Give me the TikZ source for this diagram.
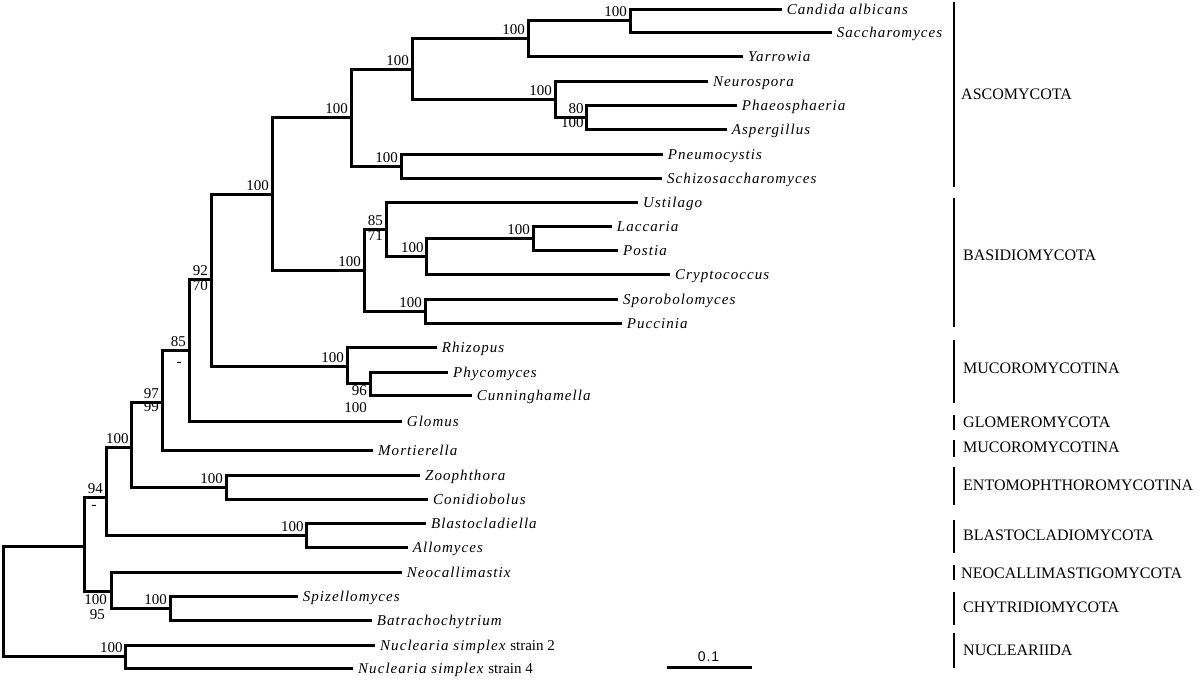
\documentclass[tikz,border=0pt]{standalone}
\usepackage{fontspec}
\setmainfont{Liberation Serif}
\newfontfamily\taxfont[LetterSpace=7]{Liberation Serif}
\newfontfamily\barfont[LetterSpace=6]{Liberation Sans}
\begin{document}
\begin{tikzpicture}[x=1pt,y=-1pt,
  br/.style={line width=3pt, line join=miter},
  leaf/.style={anchor=west, inner xsep=5pt, inner ysep=0pt, text height=11pt, text depth=1pt, font=\taxfont\itshape\fontsize{15}{15}\selectfont},
  lab/.style={anchor=base east, inner sep=0pt, xshift=-3pt, yshift=4pt, font=\fontsize{15}{15}\selectfont},
  labb/.style={lab, yshift=-15pt},
  clade/.style={anchor=base west, inner sep=0pt, font=\fontsize{16}{16}\selectfont},
  cbar/.style={line width=2pt}]
\useasboundingbox (0,0) rectangle (1200,681);

% internal nodes
\coordinate (R) at (3,601);
\coordinate (A) at (84,546);
\coordinate (P) at (125.7,656);
\coordinate (B) at (106,497);
\coordinate (N) at (111,591);
\coordinate (C) at (131.7,447);
\coordinate (M) at (306.7,535);
\coordinate (D) at (162,402);
\coordinate (L) at (226,487);
\coordinate (E) at (189,350.7);
\coordinate (F) at (211,279);
\coordinate (G) at (272,194);
\coordinate (J) at (347,366);
\coordinate (H) at (351,117);
\coordinate (I) at (364,270);
\coordinate (Q) at (412,69);
\coordinate (W) at (401,166);
\coordinate (S) at (528,38);
\coordinate (U) at (555,99);
\coordinate (T) at (630,20);
\coordinate (V) at (586.7,117.7);
\coordinate (X) at (386,229);
\coordinate (AA) at (425,311);
\coordinate (Y) at (426.7,256.7);
\coordinate (Z) at (533,238);
\coordinate (K) at (370,383);
\coordinate (O) at (170,608);

% leaves
\node[leaf] (candida) at (781.7,9) {Candida albicans};
\node[leaf] (sacch) at (831.7,32.3) {Saccharomyces};
\node[leaf] (yarrowia) at (743,56.7) {Yarrowia};
\node[leaf] (neuro) at (708,81) {Neurospora};
\node[leaf] (phaeo) at (736.7,105) {Phaeosphaeria};
\node[leaf] (asperg) at (726.7,129) {Aspergillus};
\node[leaf] (pneumo) at (662.7,154) {Pneumocystis};
\node[leaf] (schizo) at (662,178) {Schizosaccharomyces};
\node[leaf] (ustilago) at (638,202) {Ustilago};
\node[leaf] (laccaria) at (611.7,226.7) {Laccaria};
\node[leaf] (postia) at (618,250.7) {Postia};
\node[leaf] (crypto) at (670,274) {Cryptococcus};
\node[leaf] (sporo) at (618,299) {Sporobolomyces};
\node[leaf] (puccinia) at (621.7,323) {Puccinia};
\node[leaf] (rhizopus) at (436.7,347) {Rhizopus};
\node[leaf] (phyco) at (448,372) {Phycomyces};
\node[leaf] (cunning) at (471.7,395.5) {Cunninghamella};
\node[leaf] (glomus) at (401.7,421.7) {Glomus};
\node[leaf] (mortier) at (373,450) {Mortierella};
\node[leaf] (zoo) at (420,475.5) {Zoophthora};
\node[leaf] (conid) at (428,499) {Conidiobolus};
\node[leaf] (blasto) at (426,523) {Blastocladiella};
\node[leaf] (allo) at (407.7,547) {Allomyces};
\node[leaf] (neocal) at (401.7,572) {Neocallimastix};
\node[leaf] (spiz) at (297.7,596) {Spizellomyces};
\node[leaf] (batra) at (371.7,620) {Batrachochytrium};
\node[leaf] (nuc2) at (375,645) {Nuclearia simplex {\rmfamily\upshape strain 2}};
\node[leaf] (nuc4) at (353,668) {Nuclearia simplex {\rmfamily\upshape strain 4}};

% branches
\draw[br] (R) |- (A); \draw[br] (R) |- (P);
\draw[br] (P) |- (nuc2.west); \draw[br] (P) |- (nuc4.west);
\draw[br] (A) |- (B); \draw[br] (A) |- (N);
\draw[br] (N) |- (neocal.west); \draw[br] (N) |- (O);
\draw[br] (O) |- (spiz.west); \draw[br] (O) |- (batra.west);
\draw[br] (B) |- (C); \draw[br] (B) |- (M);
\draw[br] (M) |- (blasto.west); \draw[br] (M) |- (allo.west);
\draw[br] (C) |- (D); \draw[br] (C) |- (L);
\draw[br] (L) |- (zoo.west); \draw[br] (L) |- (conid.west);
\draw[br] (D) |- (E); \draw[br] (D) |- (mortier.west);
\draw[br] (E) |- (F); \draw[br] (E) |- (glomus.west);
\draw[br] (F) |- (G); \draw[br] (F) |- (J);
\draw[br] (J) |- (rhizopus.west); \draw[br] (J) |- (K);
\draw[br] (K) |- (phyco.west); \draw[br] (K) |- (cunning.west);
\draw[br] (G) |- (H); \draw[br] (G) |- (I);
\draw[br] (I) |- (X); \draw[br] (I) |- (AA);
\draw[br] (X) |- (ustilago.west); \draw[br] (X) |- (Y);
\draw[br] (Y) |- (Z); \draw[br] (Y) |- (crypto.west);
\draw[br] (Z) |- (laccaria.west); \draw[br] (Z) |- (postia.west);
\draw[br] (AA) |- (sporo.west); \draw[br] (AA) |- (puccinia.west);
\draw[br] (H) |- (Q); \draw[br] (H) |- (W);
\draw[br] (W) |- (pneumo.west); \draw[br] (W) |- (schizo.west);
\draw[br] (Q) |- (S); \draw[br] (Q) |- (U);
\draw[br] (S) |- (T); \draw[br] (S) |- (yarrowia.west);
\draw[br] (T) |- (candida.west); \draw[br] (T) |- (sacch.west);
\draw[br] (U) |- (neuro.west); \draw[br] (U) |- (V);
\draw[br] (V) |- (phaeo.west); \draw[br] (V) |- (asperg.west);

% support values
\node[lab] (lT) at (T) {100};
\node[lab] (lS) at (S) {100};
\node[lab] (lQ) at (Q) {100};
\node[lab] (lU) at (U) {100};
\node[lab] (lV) at (V) {80};
\node[labb, yshift=1pt] (lV2) at (V) {100};
\node[lab] (lH) at (H) {100};
\node[lab] (lW) at (W) {100};
\node[lab] (lG) at (G) {100};
\node[lab] (lX) at (X) {85};
\node[labb] (lX2) at (X) {71};
\node[lab] (lY) at (Y) {100};
\node[lab] (lZ) at (Z) {100};
\node[lab] (lAA) at (AA) {100};
\node[lab] (lI) at (I) {100};
\node[lab] (lF) at (F) {92};
\node[labb] (lF2) at (F) {70};
\node[lab] (lJ) at (J) {100};
\node[lab, yshift=-16pt] (lK) at (K) {96};
\node[lab, yshift=-33pt] (lK2) at (K) {100};
\node[lab] (lE) at (E) {85};
\node[anchor=base, inner sep=0pt, font=\fontsize{15}{15}\selectfont] (lE2) at (179,366) {-};
\node[lab] (lD) at (D) {97};
\node[labb, yshift=2pt] (lD2) at (D) {99};
\node[lab] (lC) at (C) {100};
\node[lab] (lL) at (L) {100};
\node[lab] (lB) at (B) {94};
\node[anchor=base, inner sep=0pt, font=\fontsize{15}{15}\selectfont] (lB2) at (94,509) {-};
\node[lab] (lM) at (M) {100};
\node[lab, xshift=-1pt, yshift=-17pt] (lN) at (N) {100};
\node[lab, xshift=-3pt, yshift=-32pt] (lN2) at (N) {95};
\node[lab] (lO) at (O) {100};
\node[lab] (lP) at (P) {100};

% clade bars
\draw[cbar] (954,2) -- (954,187);
\node[clade] (asco) at (961,99.5) {ASCOMYCOTA};
\draw[cbar] (954,198) -- (954,327);
\node[clade] (basid) at (963,260.5) {BASIDIOMYCOTA};
\draw[cbar] (954,340) -- (954,403);
\node[clade] (muco1) at (963,373.5) {MUCOROMYCOTINA};
\draw[cbar] (954,415) -- (954,430);
\node[clade] (glom) at (963,427.5) {GLOMEROMYCOTA};
\draw[cbar] (954,440) -- (954,457);
\node[clade] (muco2) at (963,452.5) {MUCOROMYCOTINA};
\draw[cbar] (954,467) -- (954,505);
\node[clade] (ento) at (963,490.5) {ENTOMOPHTHOROMYCOTINA};
\draw[cbar] (954,520) -- (954,553);
\node[clade] (blas) at (963,540.5) {BLASTOCLADIOMYCOTA};
\draw[cbar] (954,565) -- (954,580);
\node[clade] (neoc) at (961,578) {NEOCALLIMASTIGOMYCOTA};
\draw[cbar] (954,592) -- (954,625);
\node[clade] (chyt) at (963,612.5) {CHYTRIDIOMYCOTA};
\draw[cbar] (954,633) -- (954,668);
\node[clade] (nucl) at (963,655.5) {NUCLEARIIDA};

% scale bar
\coordinate (sbL) at (666.7,667.7);
\coordinate (sbR) at (751.7,667.7);
\draw[line width=3pt] (sbL) -- (sbR);
\node[anchor=base, inner sep=0pt, font=\barfont\fontsize{14}{14}\selectfont] (sbt) at (708.5,661.7) {0.1};
\end{tikzpicture}
\end{document}
